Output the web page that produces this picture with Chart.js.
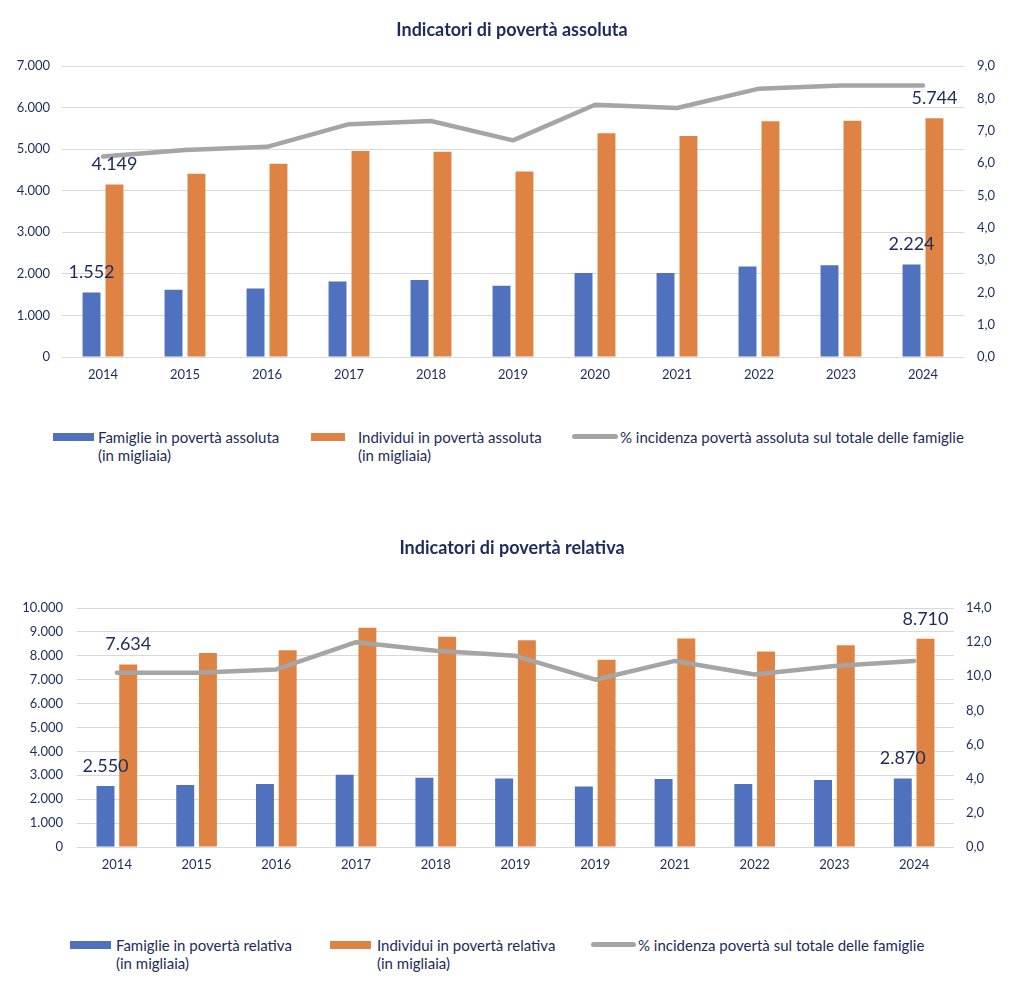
<!DOCTYPE html>
<html><head><meta charset="utf-8">
<script src="https://cdn.jsdelivr.net/npm/chart.js@4.4.1/dist/chart.umd.min.js"></script>
<style>
body{margin:0;background:#fff;width:1024px;height:1003px;position:relative;overflow:hidden;font-family:Lato,sans-serif;}
.wrap{position:absolute;left:0;width:1024px;height:400px;}
.legend{position:absolute;left:0;width:1024px;height:40px;font:15px Lato,sans-serif;color:#1C2B5C;line-height:18px;}
.txt{position:absolute;top:0;white-space:nowrap;}
.sw{position:absolute;}
</style></head><body>
<div class="wrap" style="top:0"><canvas id="c1"></canvas></div>
<div class="legend" style="top:428px">
  <div class="sw" style="left:53px;top:5px;width:41px;height:8px;background:#4F71BE"></div>
  <div class="txt" style="left:98px">Famiglie in povertà assoluta<br>(in migliaia)</div>
  <div class="sw" style="left:311px;top:5px;width:34px;height:8px;background:#DF8344"></div>
  <div class="txt" style="left:358px">Individui in povertà assoluta<br>(in migliaia)</div>
  <div class="sw" style="left:572px;top:6px;width:46px;height:5px;border-radius:3px;background:#A5A5A5"></div>
  <div class="txt" style="left:620px">% incidenza povertà assoluta sul totale delle famiglie</div>
</div>
<div class="wrap" style="top:500px"><canvas id="c2"></canvas></div>
<div class="legend" style="top:936px">
  <div class="sw" style="left:70px;top:5px;width:41px;height:8px;background:#4F71BE"></div>
  <div class="txt" style="left:116px">Famiglie in povertà relativa<br>(in migliaia)</div>
  <div class="sw" style="left:330px;top:5px;width:41px;height:8px;background:#DF8344"></div>
  <div class="txt" style="left:377px">Individui in povertà relativa<br>(in migliaia)</div>
  <div class="sw" style="left:591px;top:6px;width:45px;height:5px;border-radius:3px;background:#A5A5A5"></div>
  <div class="txt" style="left:638px">% incidenza povertà sul totale delle famiglie</div>
</div>
<script>
// ---- Data: chart 1 (povertà assoluta)
const years1 = ["2014","2015","2016","2017","2018","2019","2020","2021","2022","2023","2024"];
const famiglieAss = [1552,1615,1650,1815,1850,1715,2020,2020,2175,2205,2224];
const individuiAss = [4149,4410,4650,4955,4940,4460,5380,5316,5670,5685,5744];
const incidenzaAss = [6.2,6.4,6.5,7.2,7.3,6.7,7.8,7.7,8.3,8.4,8.4];
// ---- Data: chart 2 (povertà relativa)
const years2 = ["2014","2015","2016","2017","2018","2019","2019","2021","2022","2023","2024"];
const famiglieRel = [2550,2590,2640,3020,2900,2870,2530,2850,2640,2800,2870];
const individuiRel = [7634,8120,8230,9170,8800,8650,7830,8720,8180,8440,8710];
const incidenzaRel = [10.2,10.2,10.4,12.0,11.5,11.2,9.8,10.9,10.1,10.6,10.9];
const labelIdx = [0,10];

const NAVY = '#1C2B5C';
const BLUE = '#4F71BE', ORANGE = '#DF8344', GRAY = '#A5A5A5';

function fmtInt(v){
  const s = Math.round(v).toString();
  return s.replace(/\B(?=(\d{3})+(?!\d))/g, '.');
}
function fmtDec(v){ return Number(v).toFixed(1).replace('.', ','); }

const valueLabels = {
  id:'valueLabels',
  afterDatasetsDraw(chart){
    const ctx = chart.ctx;
    ctx.save();
    ctx.font = '18px Lato, sans-serif';
    ctx.fillStyle = NAVY;
    ctx.textAlign = 'center';
    ctx.textBaseline = 'middle';
    [0,1].forEach(di=>{
      const meta = chart.getDatasetMeta(di);
      labelIdx.forEach(i=>{
        const el = meta.data[i];
        const v = chart.data.datasets[di].data[i];
        ctx.fillText(fmtInt(v), el.x, el.y - 20);
      });
    });
    ctx.restore();
  }
};

function build(id, cfg){
  const gridColor = '#D9D9D9';
  return new Chart(document.getElementById(id), {
    type:'bar',
    data:{
      labels: cfg.labels,
      datasets:[
        {label:cfg.l1, data:cfg.d1, backgroundColor:BLUE, yAxisID:'y', order:1,
         categoryPercentage:cfg.cp, barPercentage:cfg.bp},
        {label:cfg.l2, data:cfg.d2, backgroundColor:ORANGE, yAxisID:'y', order:1,
         categoryPercentage:cfg.cp, barPercentage:cfg.bp},
        {label:cfg.l3, data:cfg.d3, type:'line', borderColor:GRAY, backgroundColor:GRAY,
         borderWidth:4.5, pointRadius:0, tension:0, yAxisID:'y1', order:0, borderCapStyle:'round', borderJoinStyle:'round'}
      ]
    },
    options:{
      responsive:true, maintainAspectRatio:false, animation:false,
      layout:{padding:{left:0,right:0,top:0,bottom:cfg.padBottom}},
      plugins:{
        legend:{display:false},
        tooltip:{enabled:false},
        title:{display:true, text:cfg.title, color:NAVY,
          font:{family:'Lato', size:18, weight:'bold', lineHeight:1.2},
          padding:{top:cfg.tTop, bottom:cfg.tBottom}}
      },
      scales:{
        x:{
          grid:{display:false, drawTicks:false},
          border:{display:false},
          ticks:{color:NAVY, font:{family:'Lato', size:13}, padding:10, maxRotation:0, autoSkip:false},
          afterFit(s){ s.height = 30; }
        },
        y:{
          position:'left', min:0, max:cfg.max, 
          grid:{color:gridColor, drawTicks:false, lineWidth:1},
          border:{display:false},
          ticks:{stepSize:1000, color:NAVY, font:{family:'Lato', size:13}, padding:cfg.padL, callback:v=>fmtInt(v)},
          afterFit(s){ s.width = cfg.left; }
        },
        y1:{
          position:'right', min:0, max:cfg.max1,
          grid:{display:false, drawTicks:false},
          border:{display:false},
          ticks:{stepSize:cfg.step1, color:NAVY, font:{family:'Lato', size:13}, padding:cfg.padR, callback:v=>fmtDec(v)},
          afterFit(s){ s.width = cfg.right; }
        }
      }
    },
    plugins:[valueLabels]
  });
}

build('c1', {
  labels:years1, d1:famiglieAss, d2:individuiAss, d3:incidenzaAss,
  l1:'Famiglie in povertà assoluta (in migliaia)', l2:'Individui in povertà assoluta (in migliaia)',
  l3:'% incidenza povertà assoluta sul totale delle famiglie',
  title:'Indicatori di povertà assoluta', tTop:19, tBottom:25.4,
  max:7000, max1:9, step1:1, left:62, right:60, padL:12, padR:13, padBottom:13,
  cp:0.56, bp:0.78
});
build('c2', {
  labels:years2, d1:famiglieRel, d2:individuiRel, d3:incidenzaRel,
  l1:'Famiglie in povertà relativa (in migliaia)', l2:'Individui in povertà relativa (in migliaia)',
  l3:'% incidenza povertà sul totale delle famiglie',
  title:'Indicatori di povertà relativa', tTop:37, tBottom:49.4,
  max:10000, max1:14, step1:2, left:77, right:70, padL:14, padR:12, padBottom:23,
  cp:0.57, bp:0.79
});
</script>
</body></html>
